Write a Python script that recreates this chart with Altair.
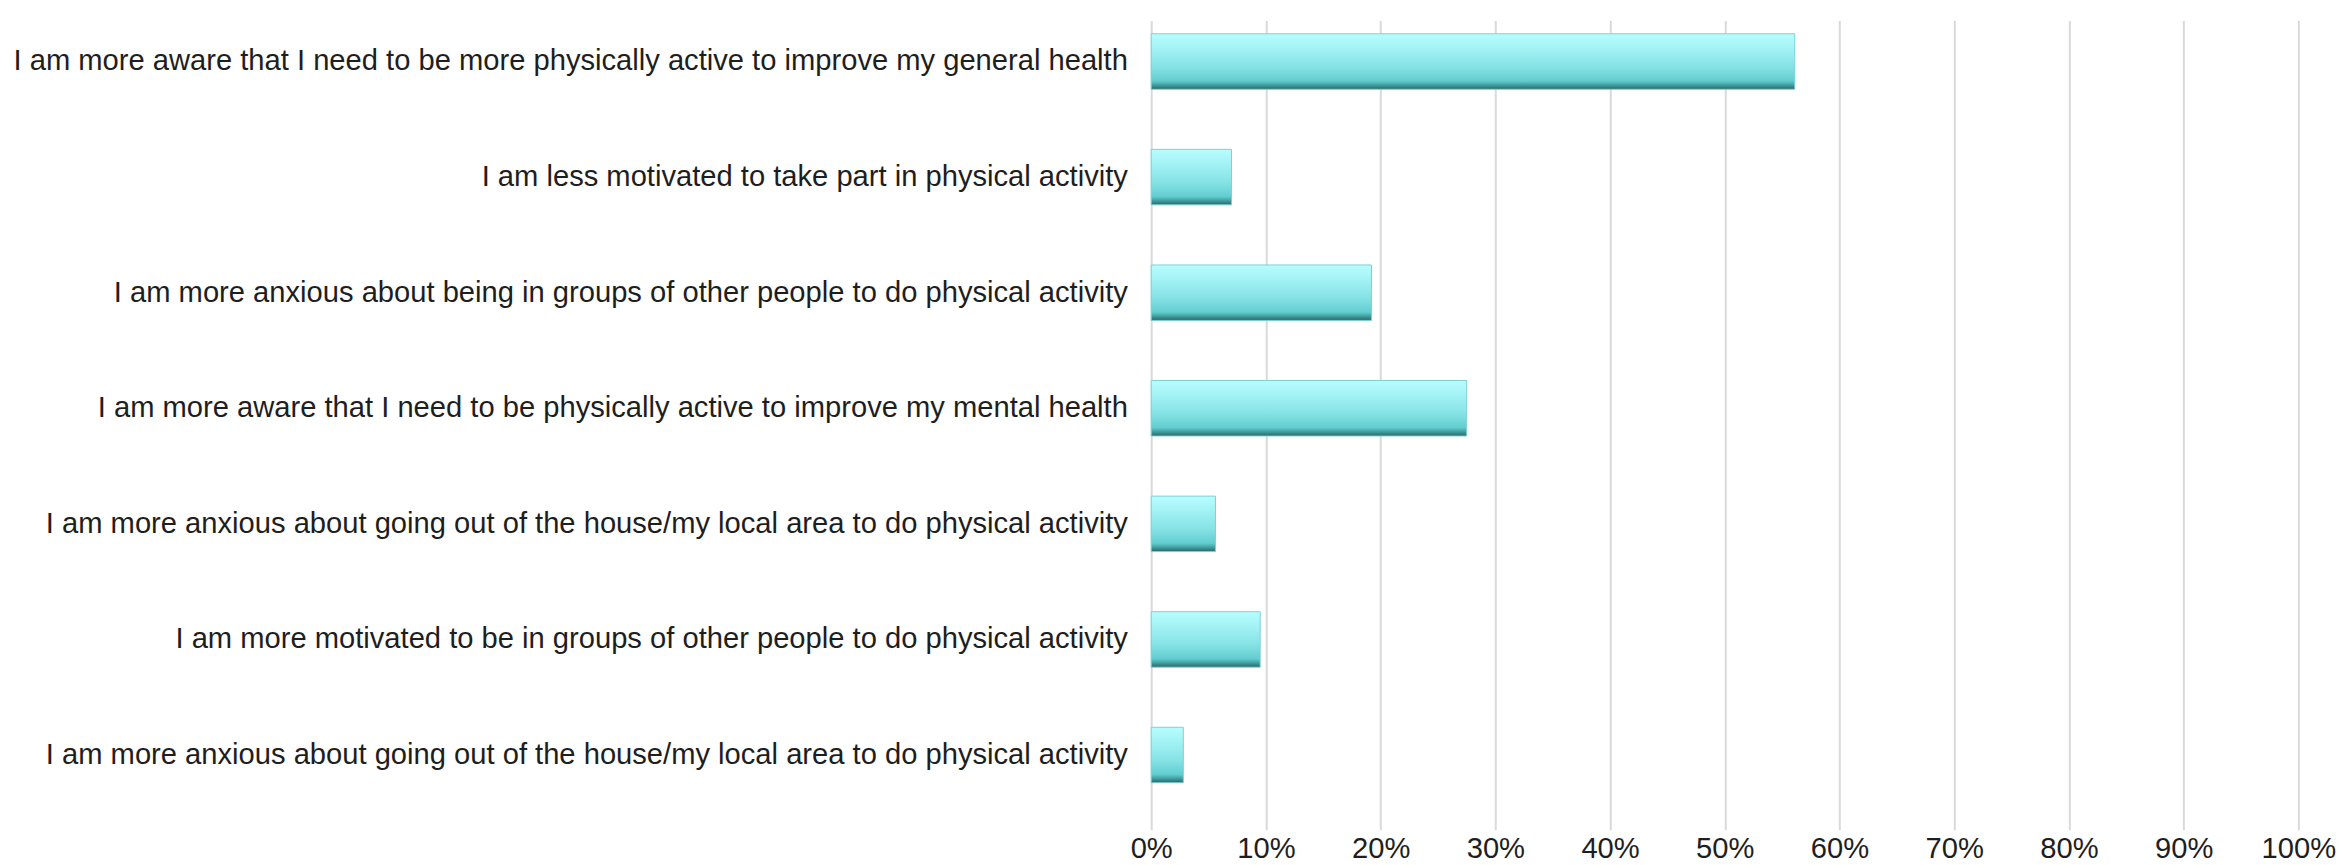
import altair as alt
import pandas as pd

categories = [
    "I am more aware that I need to be more physically active to improve my general health",
    "I am less motivated to take part in physical activity",
    "I am more anxious about being in groups of other people to do physical activity",
    "I am more aware that I need to be physically active to improve my mental health",
    "I am more anxious about going out of the house/my local area to do physical activity",
    "I am more motivated to be in groups of other people to do physical activity",
    "I am more anxious about going out of the house/my local area to do physical activity ",
]
values = [0.561, 0.070, 0.192, 0.275, 0.056, 0.095, 0.028]

df = pd.DataFrame({"cat": categories, "val": values, "order": list(range(len(values)))})

grad = alt.LinearGradient(
    gradient="linear", x1=0, y1=0, x2=0, y2=1,
    stops=[
        alt.GradientStop(offset=0.0, color="#b8fdff"),
        alt.GradientStop(offset=0.25, color="#a4f3f5"),
        alt.GradientStop(offset=0.6, color="#85e2e4"),
        alt.GradientStop(offset=0.85, color="#62cdd0"),
        alt.GradientStop(offset=0.93, color="#3f9a9c"),
        alt.GradientStop(offset=1.0, color="#2b6466"),
    ],
)

chart = alt.Chart(df).mark_bar(color=grad, stroke="#7fcfd2", strokeWidth=1).encode(
    x=alt.X("val:Q",
            scale=alt.Scale(domain=[0, 1], nice=False),
            axis=alt.Axis(format=".0%", values=[i / 10 for i in range(11)],
                          title=None, domain=False, ticks=False,
                          labelFontSize=29.4, labelFont="Liberation Sans",
                          labelColor="#1e1e1e", labelPadding=18, labelFlush=False,
                          gridColor="#d9d9d9", gridWidth=2)),
    y=alt.Y("cat:N", sort=alt.SortField("order"),
            scale=alt.Scale(range=[-13, 803], paddingInner=0.52, paddingOuter=0.26),
            axis=alt.Axis(title=None, domain=False, ticks=False, grid=False,
                          labelFontSize=29.4, labelFont="Liberation Sans",
                          labelColor="#1e1e1e", labelPadding=24, labelLimit=1300)),
).properties(width=1157, height=807).configure_view(stroke=None)

chart.save("out.html", embed_options={"renderer": "svg", "actions": False})
